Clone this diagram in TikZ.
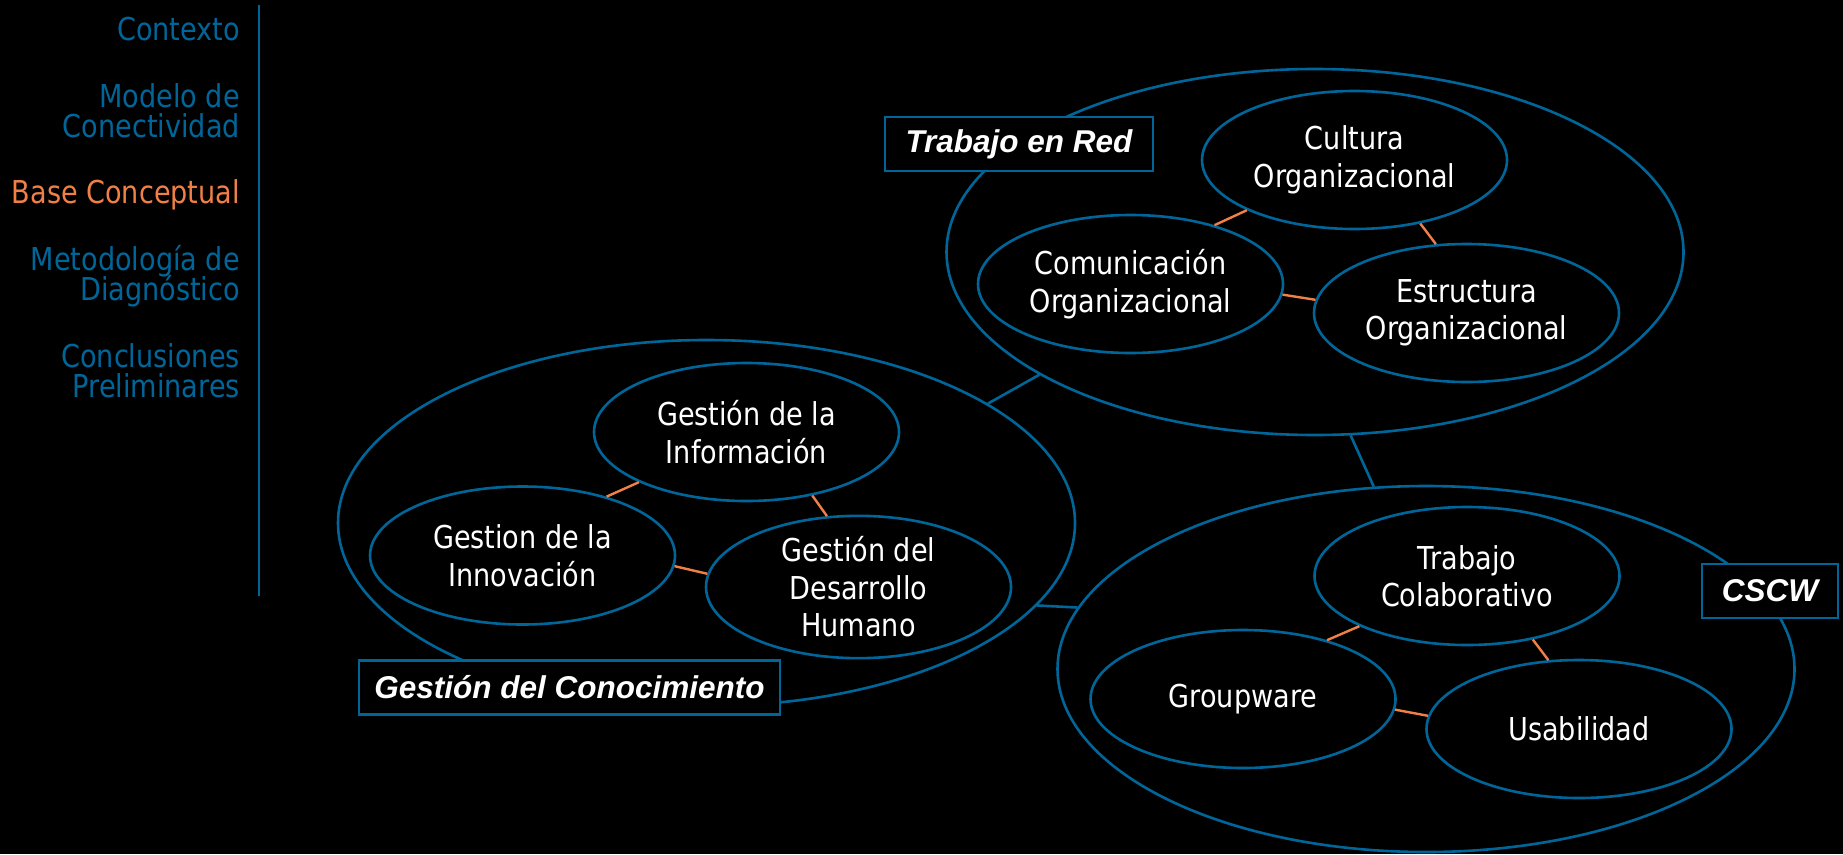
\documentclass[tikz,border=0pt]{standalone}
\usepackage{fontspec}
\setmainfont{DejaVu Sans}[FakeStretch=0.86]
\newfontfamily\lblfont{Liberation Sans}
\usetikzlibrary{shapes.geometric}
\definecolor{cblue}{RGB}{0,102,153}
\definecolor{corange}{RGB}{240,128,70}
\tikzset{
 big/.style={ellipse, draw=cblue, line width=2.6pt, minimum width=737pt, minimum height=366pt, inner sep=0pt},
 small/.style={ellipse, draw=cblue, fill=black, line width=2.6pt, minimum width=305pt, minimum height=138pt, inner sep=0pt, text=white, align=center, font=\fontsize{31.5}{37.5}\selectfont},
 lbl/.style={rectangle, draw=cblue, fill=black, line width=2.6pt, inner sep=0pt, minimum height=54pt, text=white, font=\lblfont\bfseries\itshape\fontsize{31.5}{36}\selectfont},
 side/.style={anchor=base east, text=cblue, inner sep=0pt, font=\fontsize{31.5}{30}\selectfont},
 link/.style={draw=cblue, line width=2.6pt},
 olink/.style={draw=corange, line width=2.4pt},
 sep/.style={draw=cblue, line width=2.5pt},
}
\begin{document}
\begin{tikzpicture}[x=1pt,y=-1pt]
\useasboundingbox (0,0) rectangle (1843,854);
\fill[black] (0,0) rectangle (1843,854);

% sidebar
\node[side] (s1) at (240,40) {Contexto};
\node[side] (s2a) at (240,107) {Modelo de};
\node[side] (s2b) at (240,137) {Conectividad};
\node[side, text=corange] (s3) at (240,203) {Base Conceptual};
\node[side] (s4a) at (240,270) {Metodología de};
\node[side] (s4b) at (240,300) {Diagnóstico};
\node[side] (s5a) at (240,367) {Conclusiones};
\node[side] (s5b) at (240,397) {Preliminares};
\coordinate (vt) at (259,5);
\coordinate (vb) at (259,596);
\draw[sep] (vt) -- (vb);

% big ellipses
\node[big] (tr) at (1315,252) {};
\node[big] (gc) at (706.5,523) {};
\node[big] (cs) at (1426,669) {};
\draw[link] (gc.23) -- (tr.204.6);
\draw[link] (gc.346) -- (cs.170);
\draw[link] (tr.281) -- (cs.106);

% cluster: Trabajo en Red
\node[small] (cul) at (1354.5,160) {Cultura\\Organizacional};
\node[small] (com) at (1130.5,284) {Comunicación\\Organizacional};
\node[small] (est) at (1466.5,313) {Estructura\\Organizacional};
\draw[olink] (com.35) -- (cul.205);
\draw[olink] (cul.316) -- (est.114);
\draw[olink] (com.356) -- (est.175);

% cluster: Gestión del Conocimiento
\node[small] (inf) at (746.5,432) {Gestión de la\\Información};
\node[small] (inn) at (522.5,555.5) {Gestion de la\\Innovación};
\node[small] (des) at (858.5,587) {Gestión del\\Desarrollo\\Humano};
\draw[olink] (inn.35) -- (inf.205);
\draw[olink] (inf.316) -- (des.114);
\draw[olink] (inn.356) -- (des.175);

% cluster: CSCW
\node[small] (tc) at (1467,576) {Trabajo\\Colaborativo};
\node[small] (gw) at (1243,699) {Groupware};
\node[small] (us) at (1579,729) {Usabilidad};
\draw[olink] (gw.35) -- (tc.205);
\draw[olink] (tc.316) -- (us.114);
\draw[olink] (gw.356) -- (us.175);

% labels
\node[lbl, minimum width=268pt] (ltr) at (1019,144) {Trabajo en Red};
\node[lbl, minimum width=421pt] (lgc) at (569.5,687.5) {Gestión del Conocimiento};
\node[lbl, minimum width=136pt] (lcs) at (1770,591) {CSCW};
\end{tikzpicture}
\end{document}
